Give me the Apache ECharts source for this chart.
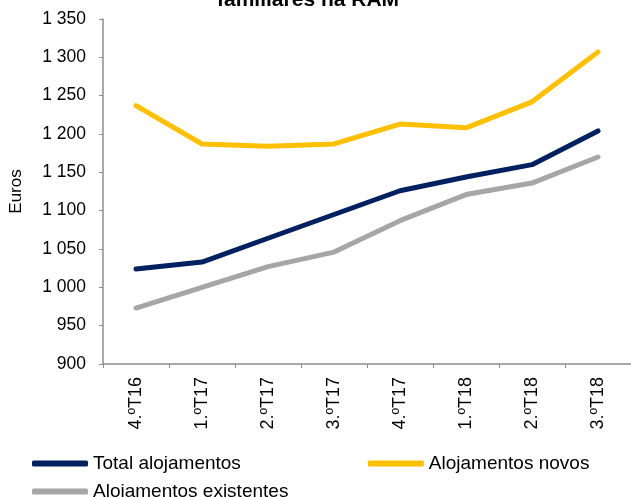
<!DOCTYPE html>
<html>
<head>
<meta charset="utf-8">
<script src="https://cdn.jsdelivr.net/npm/echarts@6/dist/echarts.min.js"></script>
<style>
  html, body { margin: 0; padding: 0; background: #fff; }
  #chart { width: 631px; height: 497px; }
</style>
</head>
<body>
<div id="chart"></div>
<script>
// dados
var trimestres = ['4.ºT16', '1.ºT17', '2.ºT17', '3.ºT17', '4.ºT17', '1.ºT18', '2.ºT18', '3.ºT18'];
var total = [1024, 1033, 1064, 1095, 1126, 1144, 1160, 1204];
var novos = [1237, 1187, 1184, 1187, 1213, 1208, 1242, 1307];
var existentes = [973, 1000, 1027, 1046, 1087, 1121, 1136, 1170];
var nomes = ['Total alojamentos', 'Alojamentos novos', 'Alojamentos existentes'];
var cores = ['#002060', '#FFC000', '#A6A6A6'];

var fonte = 'Liberation Sans, Arial, sans-serif';
var chart = echarts.init(document.getElementById('chart'));

function serie(i, dados) {
  return {
    name: nomes[i],
    type: 'line',
    data: dados,
    symbol: 'none',
    lineStyle: { color: cores[i], width: 5, cap: 'round', join: 'round' },
    itemStyle: { color: cores[i] }
  };
}

var option = {
  animation: false,
  title: {
    text: 'familiares na RAM',
    left: 217,
    top: -10,
    padding: 0,
    textStyle: { fontFamily: fonte, fontSize: 21, fontWeight: 'bold', color: '#000' }
  },
  legend: [
    {
      data: [nomes[0], nomes[1]],
      left: 32,
      top: 454,
      padding: 0,
      icon: 'roundRect',
      itemWidth: 56,
      itemHeight: 6,
      itemGap: 127,
      textStyle: { fontFamily: fonte, fontSize: 19, color: '#000' }
    },
    {
      data: [nomes[2]],
      left: 32,
      top: 482,
      padding: 0,
      icon: 'roundRect',
      itemWidth: 56,
      itemHeight: 6,
      textStyle: { fontFamily: fonte, fontSize: 19, color: '#000' }
    }
  ],
  grid: { left: 100, right: 0, top: 19, bottom: 133 },
  xAxis: {
    type: 'category',
    data: trimestres,
    boundaryGap: true,
    axisLine: { lineStyle: { color: '#8c8c8c', width: 1.5 } },
    axisTick: { show: true, length: 4, lineStyle: { color: '#8c8c8c' } },
    axisLabel: { rotate: 90, margin: 13, fontFamily: fonte, fontSize: 18, color: '#000' }
  },
  yAxis: {
    type: 'value',
    min: 900,
    max: 1350,
    interval: 50,
    name: 'Euros',
    nameLocation: 'middle',
    nameGap: 78,
    nameTextStyle: { fontFamily: fonte, fontSize: 17, color: '#000' },
    axisLine: { show: true, lineStyle: { color: '#8c8c8c', width: 1.5 } },
    axisTick: { show: true, length: 4, lineStyle: { color: '#8c8c8c' } },
    splitLine: { show: false },
    axisLabel: {
      margin: 17,
      fontFamily: fonte,
      fontSize: 17.5,
      color: '#000',
      formatter: function (v) {
        return v >= 1000 ? Math.floor(v / 1000) + ' ' + String(v % 1000).padStart(3, '0') : String(v);
      }
    }
  },
  series: [serie(0, total), serie(1, novos), serie(2, existentes)]
};

chart.setOption(option);
</script>
</body>
</html>
